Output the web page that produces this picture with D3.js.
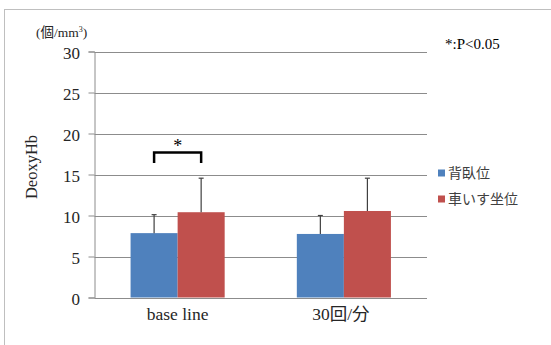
<!DOCTYPE html>
<html>
<head>
<meta charset="utf-8">
<script src="https://cdn.jsdelivr.net/npm/d3@7"></script>
<style>
  html, body { margin: 0; padding: 0; background: #fff; }
  svg { display: block; }
  .serif { font-family: "Liberation Serif", "Times New Roman", serif; }
  .mixed { font-family: "Liberation Serif", "Noto Sans CJK JP", serif; }
  .gothic { font-family: "Noto Sans CJK JP", sans-serif; }
</style>
</head>
<body>
<svg id="chart" width="551" height="345"></svg>
<script>
// Categories and series
const categories = ["base line", "30回/分"];
const seriesNames = ["背臥位", "車いす坐位"];
const seriesColors = ["#4f81bd", "#c0504d"];
// Means per series and category
const supineMeans = [7.85, 7.75];
const wheelchairMeans = [10.4, 10.55];
// Standard deviations (drawn upward only)
const supineSD = [2.25, 2.25];
const wheelchairSD = [4.15, 4.0];
const yTicks = [0, 5, 10, 15, 20, 25, 30];

const means = [supineMeans, wheelchairMeans];
const sds = [supineSD, wheelchairSD];

const svg = d3.select("#chart");
const margin = { left: 94.5, right: 124, top: 51.5, bottom: 47.5 };
const W = 551, H = 345;

// Outer frame
svg.append("rect")
  .attr("x", 4.5).attr("y", 9.5)
  .attr("width", 600).attr("height", 400)
  .attr("fill", "none").attr("stroke", "#bfbfbf").attr("stroke-width", 1);

const x = d3.scaleBand()
  .domain(categories)
  .range([margin.left, W - margin.right]);
const inner = d3.scaleBand()
  .domain(d3.range(seriesNames.length))
  .range([x.bandwidth() * 0.217, x.bandwidth() * 0.783]);
const y = d3.scaleLinear().domain([0, 30]).range([H - margin.bottom, margin.top]);

// Gridlines
svg.append("g")
  .selectAll("line")
  .data(yTicks)
  .join("line")
  .attr("x1", margin.left).attr("x2", W - margin.right)
  .attr("y1", d => Math.round(y(d)) + 0.5).attr("y2", d => Math.round(y(d)) + 0.5)
  .attr("stroke", "#8c8c8c").attr("stroke-width", 1);

// Y axis
const yAxis = d3.axisLeft(y).tickValues(yTicks).tickSize(6).tickPadding(8.5);
const gy = svg.append("g").attr("transform", `translate(${margin.left},0)`).call(yAxis)
  .attr("font-family", null).attr("font-size", null);
gy.select(".domain").attr("stroke", "#8c8c8c");
gy.selectAll(".tick line").attr("stroke", "#8c8c8c");
gy.selectAll(".tick text")
  .attr("class", "serif")
  .attr("dy", "0.4em")
  .style("font-size", "17px").attr("fill", "#262626");

// Bars
const groups = svg.append("g")
  .selectAll("g")
  .data(categories)
  .join("g")
  .attr("transform", d => `translate(${x(d)},0)`);

const cells = (c, ci) => seriesNames.map((s, si) => ({ si, v: means[si][ci], sd: sds[si][ci] }));

groups.selectAll("rect")
  .data(cells)
  .join("rect")
  .attr("x", d => inner(d.si))
  .attr("width", inner.bandwidth())
  .attr("y", d => y(d.v))
  .attr("height", d => y(0) - y(d.v))
  .attr("fill", d => seriesColors[d.si]);

// Error bars (upper half only)
const err = groups.selectAll("g.err")
  .data(cells)
  .join("g").attr("class", "err");
err.append("line")
  .attr("x1", d => inner(d.si) + inner.bandwidth() / 2)
  .attr("x2", d => inner(d.si) + inner.bandwidth() / 2)
  .attr("y1", d => y(d.v))
  .attr("y2", d => y(d.v + d.sd))
  .attr("stroke", "#404040").attr("stroke-width", 1.2);
err.append("line")
  .attr("x1", d => inner(d.si) + inner.bandwidth() / 2 - 2.5)
  .attr("x2", d => inner(d.si) + inner.bandwidth() / 2 + 2.5)
  .attr("y1", d => y(d.v + d.sd))
  .attr("y2", d => y(d.v + d.sd))
  .attr("stroke", "#404040").attr("stroke-width", 1.2);

// X axis labels
svg.append("g")
  .selectAll("text")
  .data(categories)
  .join("text")
  .attr("class", "mixed")
  .attr("x", (d, i) => x(d) + x.bandwidth() / 2 - (i === 1 ? 3 : 0))
  .attr("y", 320)
  .attr("text-anchor", "middle")
  .style("font-size", "17.5px").attr("fill", "#262626")
  .text(d => d);

// Significance bracket between the two baseline bars
const c0 = categories[0];
const bx1 = x(c0) + inner(0) + inner.bandwidth() / 2;
const bx2 = x(c0) + inner(1) + inner.bandwidth() / 2;
const bTop = 152.5, bBot = 163;
svg.append("path")
  .attr("d", `M${bx1},${bBot} V${bTop} H${bx2} V${bBot}`)
  .attr("fill", "none").attr("stroke", "#000").attr("stroke-width", 2.5);
svg.append("text")
  .attr("class", "serif")
  .attr("x", (bx1 + bx2) / 2).attr("y", 152)
  .attr("text-anchor", "middle")
  .style("font-size", "18px").attr("fill", "#000")
  .text("*");

// Y axis title and unit
svg.append("text")
  .attr("class", "serif")
  .attr("transform", "translate(37,167) rotate(-90)")
  .attr("text-anchor", "middle")
  .style("font-size", "16.5px").attr("fill", "#262626")
  .text("DeoxyHb");

const unit = svg.append("text")
  .attr("class", "mixed")
  .attr("x", 36).attr("y", 37)
  .style("font-size", "13.5px").attr("fill", "#262626");
unit.append("tspan").text("(個/mm");
unit.append("tspan").style("font-size", "8px").attr("dy", -5).text("3");
unit.append("tspan").attr("dy", 5).text(")");

// Significance note
svg.append("text")
  .attr("class", "serif")
  .attr("x", 445).attr("y", 49)
  .style("font-size", "15px").attr("fill", "#000")
  .text("*:P<0.05");

// Legend
const legend = svg.append("g")
  .selectAll("g")
  .data(seriesNames)
  .join("g")
  .attr("transform", (d, i) => `translate(438,${173 + i * 26})`);
legend.append("rect")
  .attr("x", 0).attr("y", -3.5).attr("width", 7).attr("height", 7)
  .attr("fill", (d, i) => seriesColors[i]);
legend.append("text")
  .attr("class", "gothic")
  .attr("x", 10).attr("y", 0).attr("dy", "0.36em")
  .style("font-size", "14px").attr("fill", "#404040")
  .text(d => d);
</script>
</body>
</html>
